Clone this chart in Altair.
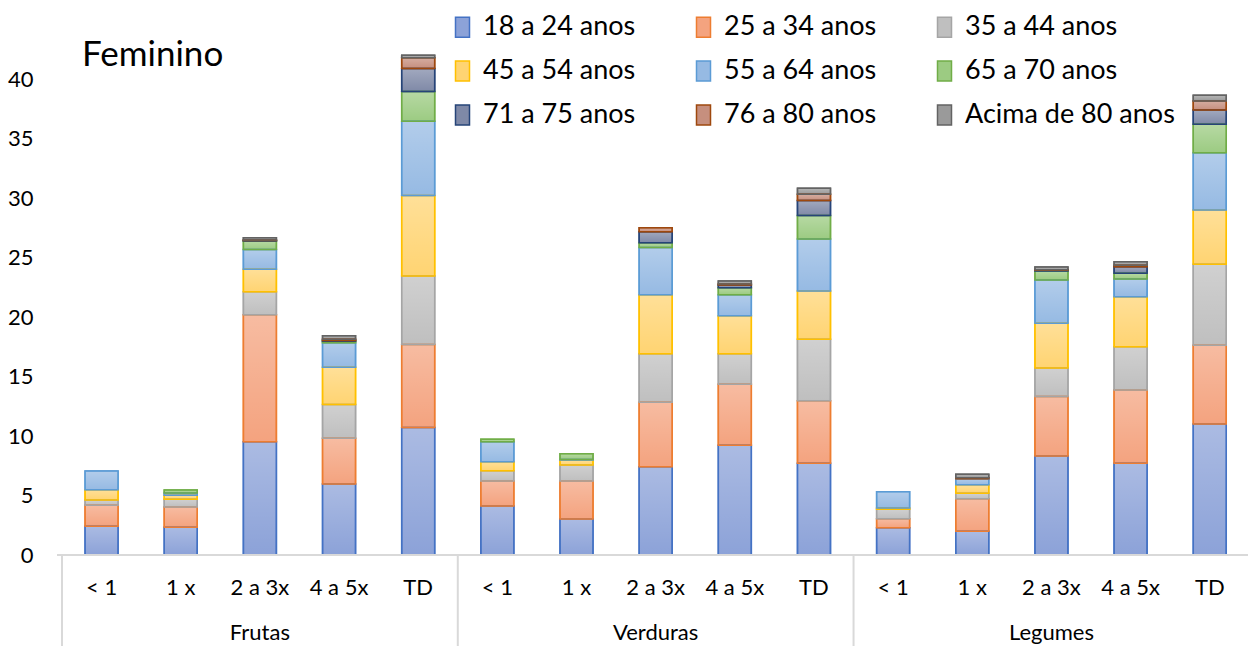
import altair as alt
import pandas as pd

groups = ["Frutas", "Verduras", "Legumes"]
frequencies = ["< 1", "1 x", "2 a 3x", "4 a 5x", "TD"]
age_bands = [
    "18 a 24 anos", "25 a 34 anos", "35 a 44 anos",
    "45 a 54 anos", "55 a 64 anos", "65 a 70 anos",
    "71 a 75 anos", "76 a 80 anos", "Acima de 80 anos",
]

# Percentages per bar: Frutas (5), Verduras (5), Legumes (5)
age_18_24 = [2.42, 2.33, 9.52, 5.97, 10.72, 4.12, 3.03, 7.42, 9.22, 7.70, 2.30, 1.99, 8.32, 7.70, 11.01]
age_25_34 = [1.76, 1.71, 10.66, 3.84, 6.96, 2.10, 3.19, 5.41, 5.12, 5.27, 0.75, 2.74, 4.99, 6.17, 6.61]
age_35_44 = [0.45, 0.65, 1.94, 2.84, 5.77, 0.87, 1.34, 4.09, 2.58, 5.15, 0.79, 0.45, 2.40, 3.64, 6.81]
age_45_54 = [0.86, 0.34, 1.90, 3.13, 6.77, 0.75, 0.42, 4.96, 3.19, 4.06, 0.11, 0.73, 3.76, 4.20, 4.56]
age_55_64 = [1.56, 0.17, 1.65, 2.05, 6.23, 1.68, 0.05, 3.95, 1.77, 4.37, 1.37, 0.50, 3.64, 1.48, 4.82]
age_65_70 = [0.00, 0.26, 0.71, 0.14, 2.50, 0.20, 0.48, 0.42, 0.58, 1.97, 0.00, 0.00, 0.76, 0.48, 2.38]
age_71_75 = [0.00, 0.00, 0.05, 0.05, 1.93, 0.00, 0.00, 0.92, 0.23, 1.26, 0.00, 0.00, 0.05, 0.56, 1.20]
age_76_80 = [0.00, 0.00, 0.05, 0.10, 0.91, 0.00, 0.00, 0.33, 0.08, 0.53, 0.00, 0.08, 0.06, 0.11, 0.76]
age_80_plus = [0.00, 0.00, 0.17, 0.31, 0.20, 0.00, 0.00, 0.00, 0.26, 0.50, 0.00, 0.30, 0.22, 0.31, 0.48]

series = [age_18_24, age_25_34, age_35_44, age_45_54, age_55_64,
          age_65_70, age_71_75, age_76_80, age_80_plus]

fill_colors = ["#8CA2D8", "#F4A37F", "#BFBFBF", "#FFD472", "#96BAE3",
               "#9CCB82", "#7F89A7", "#C68F7E", "#9A9A9A"]
line_colors = ["#4472C4", "#ED7D31", "#A5A5A5", "#FFC000", "#5B9BD5",
               "#70AD47", "#264478", "#9E480E", "#636363"]

W, H = 1191, 535.5
FONT = "Lato"

rows = []
for s, (band, vals) in enumerate(zip(age_bands, series)):
    for i, v in enumerate(vals):
        rows.append({"idx": i, "band": band, "order": s, "value": v})
bars_df = pd.DataFrame(rows)

labels_df = pd.DataFrame({
    "idx": list(range(len(groups) * len(frequencies))),
    "freq": frequencies * len(groups),
})
groups_df = pd.DataFrame({
    "idx": [g * len(frequencies) + (len(frequencies) - 1) / 2 for g in range(len(groups))],
    "group": groups,
})
sep_df = pd.DataFrame({"pos": [g * len(frequencies) - 0.5 for g in range(len(groups))]})

xscale = alt.Scale(domain=[-0.5, 14.42], nice=False, zero=False)
yscale = alt.Scale(domain=[0, 45], nice=False)
fill_scale = alt.Scale(domain=age_bands, range=fill_colors)
stroke_scale = alt.Scale(domain=age_bands, range=line_colors)

legend = alt.Legend(
    orient="none", legendX=392, legendY=-6, direction="horizontal", columns=3,
    columnPadding=54, rowPadding=16, title=None, labelFont=FONT, labelFontSize=27,
    labelColor="#000000", labelOffset=7, labelLimit=400,
    symbolType="M-0.7,-1H0.7V1H-0.7Z", symbolSize=400, symbolStrokeWidth=1.5,
)

base = alt.Chart(bars_df).transform_filter("datum.value > 0")
x_enc = alt.X("idx:Q", scale=xscale, axis=None)
y_enc = alt.Y("value:Q", stack="zero", scale=yscale,
              axis=alt.Axis(values=list(range(0, 45, 5)), grid=False, domain=False, ticks=False,
                            labelPadding=24, labelFont=FONT, labelFontSize=22,
                            labelColor="#000000", title=None))
order_enc = alt.Order("order:Q", sort="ascending")

# solid segment fill with its coloured outline
bars = base.mark_bar(width=33, strokeWidth=1.5).encode(
    x=x_enc, y=y_enc,
    fill=alt.Fill("band:N", scale=fill_scale, legend=legend),
    stroke=alt.Stroke("band:N", scale=stroke_scale, legend=legend),
    order=order_enc,
)

# soft vertical sheen: lighter at the top of each segment
sheen = base.mark_bar(
    width=33,
    fill=alt.Gradient(
        gradient="linear", x1=0, y1=0, x2=0, y2=1,
        stops=[alt.GradientStop(offset=0, color="rgba(255,255,255,0.27)"),
               alt.GradientStop(offset=1, color="rgba(255,255,255,0)")],
    ),
).encode(x=x_enc, y=alt.Y("value:Q", stack="zero", scale=yscale),
         detail="band:N", order=order_enc)

outline = base.mark_bar(width=33, strokeWidth=1.5, fillOpacity=0).encode(
    x=x_enc, y=alt.Y("value:Q", stack="zero", scale=yscale),
    stroke=alt.Stroke("band:N", scale=stroke_scale, legend=None),
    order=order_enc,
)

baseline = alt.Chart(sep_df).mark_rule(color="#D9D9D9", strokeWidth=2).encode(
    x=alt.value(0), x2=alt.value(W), y=alt.value(H)
)

separators = alt.Chart(sep_df).mark_rule(color="#D9D9D9", strokeWidth=2).encode(
    x=alt.X("pos:Q", scale=xscale), y=alt.value(H), y2=alt.value(H + 91)
)

freq_text = alt.Chart(labels_df).mark_text(
    font=FONT, fontSize=22, color="#000000", baseline="middle"
).encode(x=alt.X("idx:Q", scale=xscale), y=alt.value(H + 33), text="freq:N")

group_text = alt.Chart(groups_df).mark_text(
    font=FONT, fontSize=22, color="#000000", baseline="middle"
).encode(x=alt.X("idx:Q", scale=xscale), y=alt.value(H + 78), text="group:N")

title_text = alt.Chart(pd.DataFrame({"t": ["Feminino"]})).mark_text(
    font=FONT, fontSize=35, color="#000000", align="left", baseline="middle"
).encode(x=alt.value(25), y=alt.value(35.5), text="t:N")

chart = alt.layer(bars, sheen, outline, baseline, separators,
                  freq_text, group_text, title_text).properties(
    width=W, height=H, autosize="none",
    padding={"left": 57, "top": 19.5, "right": 0, "bottom": 91},
).configure_view(stroke=None)

chart.save("out.html", embed_options={"renderer": "svg", "actions": False})
